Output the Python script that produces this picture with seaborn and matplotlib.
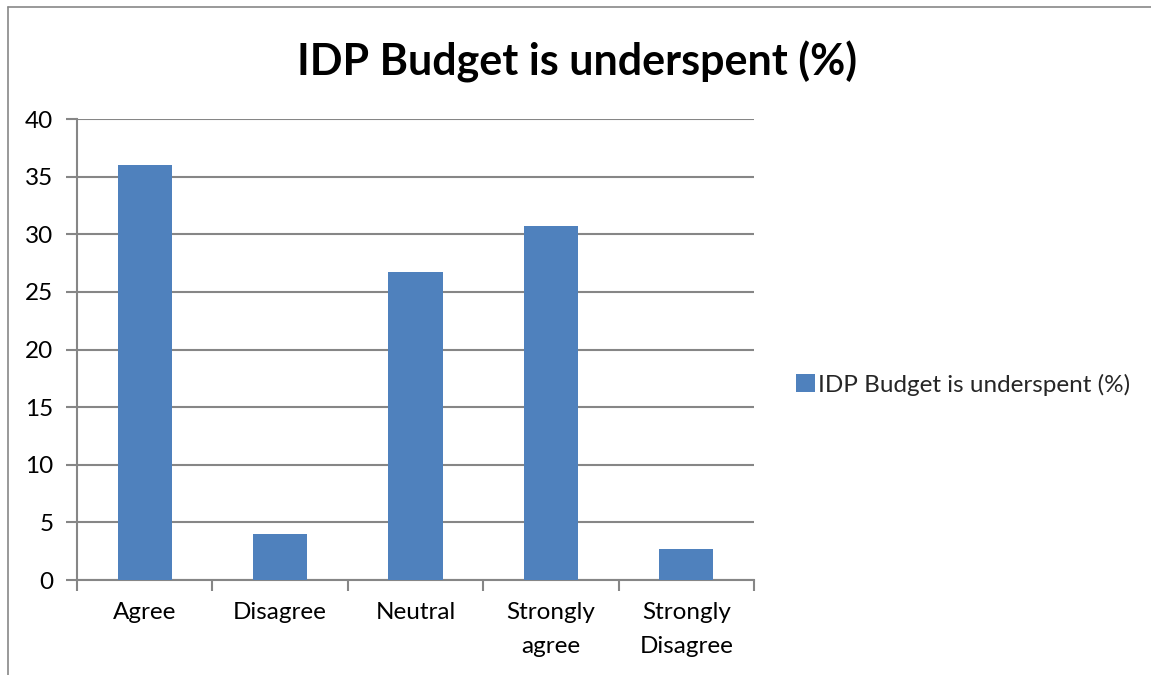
import matplotlib
matplotlib.use("Agg")
import matplotlib.pyplot as plt
from matplotlib.lines import Line2D
from matplotlib.patches import Patch
import seaborn as sns
import pandas as pd

categories = ["Agree", "Disagree", "Neutral", "Strongly\nagree", "Strongly\nDisagree"]
values = [36.0, 4.0, 26.7, 30.7, 2.7]
series_name = "IDP Budget is underspent (%)"
y_ticks = [0, 5, 10, 15, 20, 25, 30, 35, 40]

bar_color = "#4F81BD"
grid_color = "#868686"

sns.set_theme(style="white")
plt.rcParams["font.family"] = ["Lato", "DejaVu Sans"]

df = pd.DataFrame({"category": categories, "value": values})

fig = plt.figure(figsize=(11.51, 6.75), dpi=100)
ax = fig.add_axes([0.0669, 0.1407, 0.5882, 0.6830])

sns.barplot(data=df, x="category", y="value", color=bar_color, width=0.4,
            saturation=1, linewidth=0, ax=ax, zorder=3)

ax.set_ylim(0, 40)
ax.set_xlim(-0.5, len(categories) - 0.5)
ax.set_yticks(y_ticks)
ax.yaxis.grid(True, color=grid_color, linewidth=1.5, zorder=0)
ax.set_axisbelow(True)
ax.set_xlabel("")
ax.set_ylabel("")

for side in ["top", "right"]:
    ax.spines[side].set_visible(False)
for side in ["left", "bottom"]:
    ax.spines[side].set_color(grid_color)
    ax.spines[side].set_linewidth(1.5)

# category labels centred, tick marks at category boundaries
ax.set_xticks(range(len(categories)))
ax.set_xticklabels(categories, fontsize=17.5, color="black", linespacing=1.75)
ax.set_xticks([i - 0.5 for i in range(len(categories) + 1)], minor=True)
ax.tick_params(axis="x", which="major", length=0, pad=16)
ax.tick_params(axis="x", which="minor", length=8, width=1.5, color=grid_color, bottom=True)
ax.tick_params(axis="y", length=8, width=1.5, color=grid_color, left=True,
               labelsize=17.5, labelcolor="black", pad=9)

fig.text(0.5013, 0.908, series_name, ha="center", va="center",
         fontsize=31, fontweight="bold", color="black")

handle = Patch(facecolor=bar_color, edgecolor="none")
fig.legend([handle], [series_name], loc="center left",
           bbox_to_anchor=(0.673, 0.43), frameon=False, fontsize=17.5,
           handlelength=0.75, handleheight=0.75, handletextpad=0.15)

# chart-area frame (left and top edges)
fig.add_artist(Line2D([0.0069, 0.0069], [0.0, 0.9896], transform=fig.transFigure,
                      color="#888888", linewidth=1.2))
fig.add_artist(Line2D([0.0069, 1.0], [0.9896, 0.9896], transform=fig.transFigure,
                      color="#888888", linewidth=1.2))

fig.savefig("out.png", dpi=100, facecolor="white")
